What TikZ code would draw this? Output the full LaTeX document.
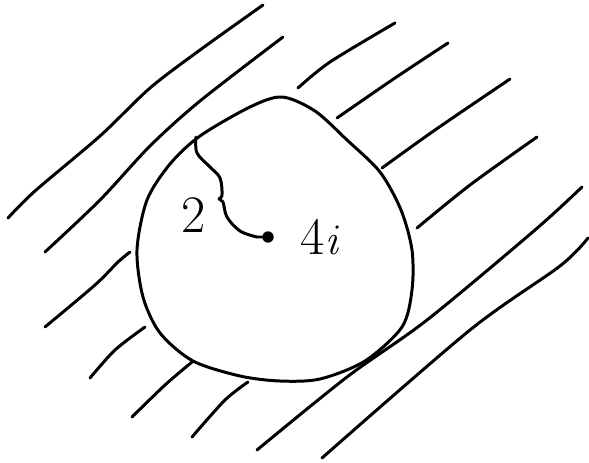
\documentclass[tikz,border=0pt]{standalone}
\usepackage{tikz}
\usetikzlibrary{positioning}

\begin{document}
\begin{tikzpicture}[
  x=0.02cm,y=-0.02cm,
  rim/.style={line width=1.7pt,line cap=round,line join=round},
  hatch/.style={rim},
  dotnode/.style={circle,fill=black,inner sep=0pt,minimum size=6.5pt},
  lbl/.style={font=\fontsize{30}{30}\selectfont,inner sep=0pt}
]
  \useasboundingbox (0,0) rectangle (589,463);
  % the disc
  \draw[rim] plot[smooth cycle] coordinates {
    (282,97) (315,111) (347,140) (380,172) (401,210) (412,250) (412,290)
    (402,327) (365,361) (320,379) (280,381) (240,376) (193,361)
    (160,333) (143,297) (137,250) (147,200) (170,164) (200,136) (250,107)};
  \node[dotnode] (ctr) at (268,237) {};
  \node[lbl] (rlbl) at (194,215) {2};
  \node[lbl,right=15pt of ctr] (clbl) {4$\mathit{i}$};
  \draw[rim] plot[smooth,tension=0.6] coordinates {
    (196,137) (197,153) (210,167) (220,178) (222,195) (219,199) (223,202)
    (227,217) (240,231) (257,237)} -- (ctr);
  % hatching outside
  \draw[hatch] plot[smooth] coordinates {(8,218) (35,191) (100,136) (150,88) (200,50) (263,5)};
  \draw[hatch] plot[smooth] coordinates {(45,252) (100,200) (150,146) (200,101) (283,37)};
  \draw[hatch] plot[smooth] coordinates {(45,327) (95,285) (118,262) (130,252)};
  \draw[hatch] plot[smooth] coordinates {(90,378) (115,350) (145,327)};
  \draw[hatch] plot[smooth] coordinates {(132,417) (165,385) (192,362)};
  \draw[hatch] plot[smooth] coordinates {(192,437) (225,400) (248,382)};
  \draw[hatch] plot[smooth] coordinates {(257,450) (347,377) (427,320) (535,230) (582,187)};
  \draw[hatch] plot[smooth] coordinates {(322,458) (470,330) (560,266) (588,238)};
  \draw[hatch] plot[smooth] coordinates {(298,88) (330,62) (395,23)};
  \draw[hatch] plot[smooth] coordinates {(337,118) (395,78) (448,43)};
  \draw[hatch] plot[smooth] coordinates {(382,168) (435,130) (510,79)};
  \draw[hatch] plot[smooth] coordinates {(417,228) (470,185) (537,137)};
\end{tikzpicture}
\end{document}
